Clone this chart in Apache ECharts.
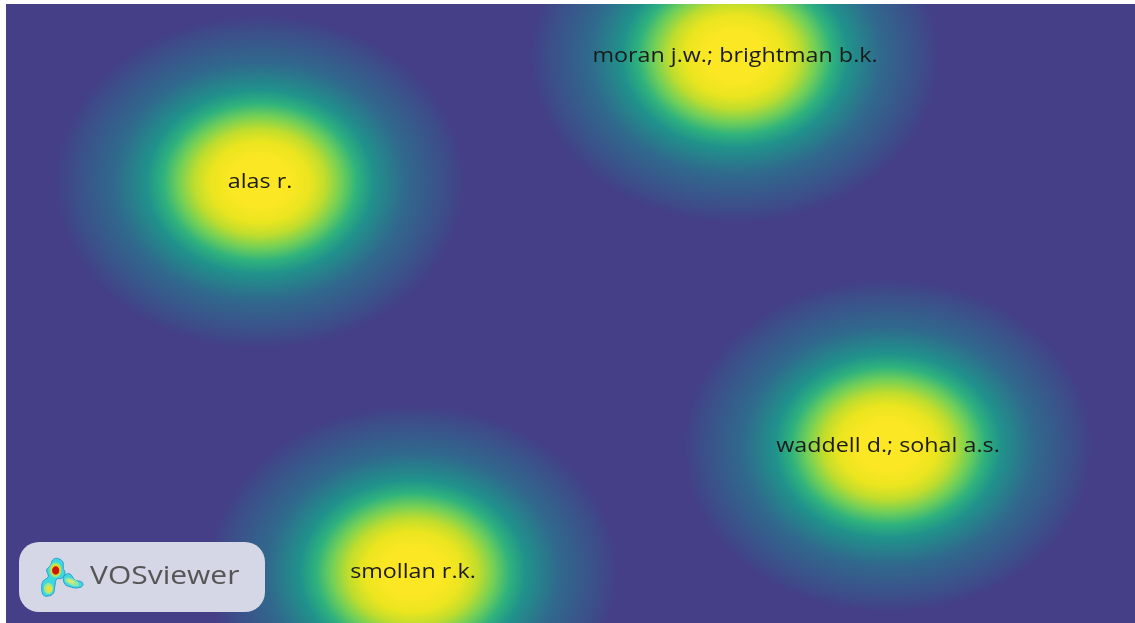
<!DOCTYPE html>
<html>
<head>
<meta charset="utf-8">
<title>VOSviewer density map</title>
<script src="https://cdn.jsdelivr.net/npm/echarts@6/dist/echarts.min.js"></script>
<style>
  html, body { margin: 0; padding: 0; background: #ffffff; }
  #chart { width: 1135px; height: 623px; filter: blur(0.4px); }
</style>
</head>
<body>
<div id="chart"></div>
<script>
// In image pixels
const authorLabels = ["alas r.", "moran j.w.; brightman b.k.", "waddell d.; sohal a.s.", "smollan r.k."];
const authorX = [260, 735, 888, 413];
const authorY = [182, 56, 446, 572];

const BACKGROUND = "#443f86";
const SPREAD_X = 204;
const SPREAD_Y = 166;

// Density colour ramp, centre to edge
const densityStops = [
  { offset: 0, color: "#fde725" },
  { offset: 0.15, color: "#fbe723" },
  { offset: 0.245, color: "#eae51f" },
  { offset: 0.32, color: "#c0dd2d" },
  { offset: 0.4, color: "#70cf58" },
  { offset: 0.475, color: "#2fb27d" },
  { offset: 0.555, color: "#20928b" },
  { offset: 0.715, color: "#30698d" },
  { offset: 0.83, color: "#37598b" },
  { offset: 0.93, color: "#3e4b89" },
  { offset: 0.985, color: "#424287" },
  { offset: 1, color: BACKGROUND },
];

const chart = echarts.init(document.getElementById("chart"), null, { renderer: "canvas" });

chart.setOption({
  animation: false,
  backgroundColor: "#ffffff",
  tooltip: { show: false },
  grid: { left: 6, top: 4, right: 0, bottom: 0, show: true, backgroundColor: BACKGROUND, borderWidth: 0 },
  xAxis: { type: "value", min: 6, max: 1135, show: false },
  yAxis: { type: "value", min: 4, max: 623, inverse: true, show: false },
  series: [
    {
      type: "custom",
      clip: true,
      data: authorX.map((x, i) => [x, authorY[i]]),
      encode: { x: 0, y: 1 },
      renderItem: (params, api) => {
        const center = api.coord([api.value(0), api.value(1)]);
        const size = api.size([SPREAD_X, SPREAD_Y]);
        return {
          type: "group",
          x: center[0],
          y: center[1],
          children: [
            {
              // circle squashed in y, the gradient follows the transform
              type: "circle",
              shape: { cx: 0, cy: 0, r: size[0] },
              scaleY: size[1] / size[0],
              style: {
                fill: { type: "radial", x: 0.5, y: 0.5, r: 0.5, colorStops: densityStops },
              },
            },
            {
              type: "text",
              scaleY: 0.86,
              style: {
                text: authorLabels[params.dataIndex],
                x: 0,
                y: 0,
                align: "center",
                verticalAlign: "middle",
                fontFamily: "Open Sans",
                fontSize: 23.3,
                fill: "#1a1a1a",
              },
            },
          ],
        };
      },
    },
  ],
  graphic: [
    {
      type: "rect",
      z: 10,
      shape: { x: 19, y: 542, width: 246, height: 70, r: 20 },
      style: { fill: "#d5d6e6" },
    },
    {
      type: "text",
      z: 10,
      x: 90,
      y: 577,
      scaleY: 0.86,
      style: {
        text: "VOSviewer",
        fontFamily: "Open Sans",
        fontSize: 30,
        fill: "#555555",
        verticalAlign: "middle",
      },
    },
    // logo: little density blobs
    {
      type: "polygon",
      z: 10,
      shape: {
        smooth: 0.4,
        points: [[56.7, 558.3], [62.7, 561.7], [63.3, 568.3], [65, 573.3], [61.7, 578.3], [56.7, 579], [55, 585], [53.3, 593.3], [48.3, 596], [43.3, 595], [41.7, 586.7], [43.3, 581], [48.3, 576.7], [46.7, 570], [50.7, 565], [52.7, 560]],
      },
      style: { fill: "#3fd8e0", stroke: "#2a9cc8", lineWidth: 1 },
    },
    {
      type: "polygon",
      z: 10,
      shape: {
        smooth: 0.4,
        points: [[65, 575], [70, 574], [75, 580], [81.7, 582], [82.7, 585.7], [76.7, 588], [70, 586.7], [65, 584.3], [63.3, 578.3]],
      },
      style: { fill: "#3fd8e0", stroke: "#2a9cc8", lineWidth: 1 },
    },
    { type: "ellipse", z: 11, shape: { cx: 55.5, cy: 570, rx: 6, ry: 7.5 }, style: { fill: "#8fe88a" } },
    { type: "ellipse", z: 11, shape: { cx: 48.5, cy: 588.5, rx: 4.5, ry: 5.5 }, style: { fill: "#9fe88a" } },
    { type: "ellipse", z: 11, originX: 72, originY: 582, rotation: -0.4, shape: { cx: 72, cy: 582, rx: 7.5, ry: 3.2 }, style: { fill: "#8fe8a8" } },
    { type: "ellipse", z: 12, shape: { cx: 55.7, cy: 570, rx: 4.8, ry: 5.8 }, style: { fill: "#e8d81e" } },
    { type: "ellipse", z: 13, shape: { cx: 55.7, cy: 570.5, rx: 3.6, ry: 4.2 }, style: { fill: "#cf150f" } },
    { type: "ellipse", z: 12, shape: { cx: 49, cy: 589, rx: 2.8, ry: 3.4 }, style: { fill: "#ecdf3c" } },
    { type: "ellipse", z: 12, originX: 71, originY: 581.5, rotation: -0.4, shape: { cx: 71, cy: 581.5, rx: 4, ry: 1.6 }, style: { fill: "#d6ea70" } },
  ],
});
</script>
</body>
</html>
